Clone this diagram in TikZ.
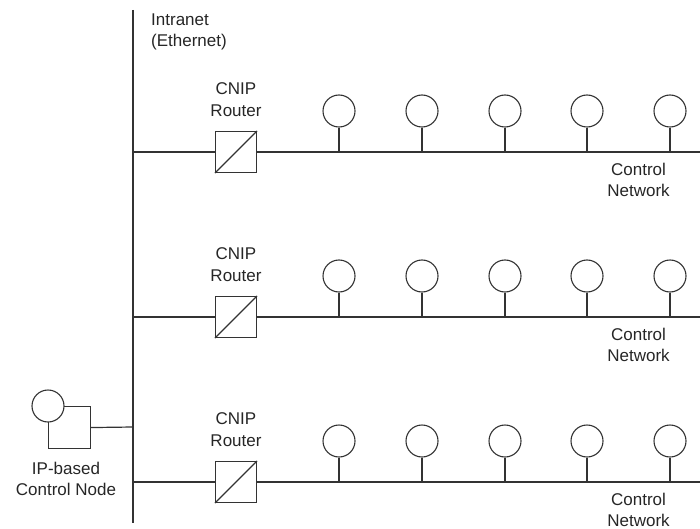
\documentclass[tikz,border=0pt]{standalone}
\usepackage{fontspec}
\setmainfont{Liberation Sans}
\begin{document}
\begin{tikzpicture}[x=1pt,y=-1pt,
  line/.style={line width=1.2pt, draw=black!80},
  lbl/.style={font=\fontsize{17}{21}\selectfont, inner sep=0pt, text=black!85, anchor=base},
  dev/.style={circle, draw=black!80, line width=1.1pt, minimum size=32pt, inner sep=0pt, fill=white},
  rbox/.style={draw=black!80, line width=1.1pt, minimum size=41pt, inner sep=0pt, fill=white}]
\useasboundingbox (0,0) rectangle (700,529);
% Intranet backbone
\coordinate (btop) at (133,10);
\coordinate (bbot) at (133,523);
\draw[line] (btop) -- (bbot);
\node[lbl, anchor=base west] (intraA) at (151,26) {Intranet};
\node[lbl, anchor=base west] (intraB) at (151,47) {(Ethernet)};
% rows
\foreach \r/\y in {1/152, 2/317, 3/482} {
  \coordinate (bl\r) at (133,\y);
  \coordinate (br\r) at (700,\y);
  \draw[line] (bl\r) -- (br\r);
  \node[rbox] (router\r) at (236,\y) {};
  \draw[line width=1.1pt, draw=black!80] (router\r.south west) -- (router\r.north east);
  \node[lbl] (rlA\r) at (236,\y-57.5) {CNIP};
  \node[lbl] (rlB\r) at (236,\y-35.5) {Router};
  \foreach \i/\x in {1/339, 2/422, 3/505, 4/587, 5/670} {
    \coordinate (tap\r\i) at (\x,\y);
    \node[dev] (dev\r\i) at (\x,\y-41) {};
    \draw[line] (dev\r\i.south) -- (tap\r\i);
  }
  \node[lbl] (cnA\r) at (638.5,\y+23.5) {Control};
  \node[lbl] (cnB\r) at (638.5,\y+44.5) {Network};
}
% IP-based control node
\node[draw=black!80, line width=1.1pt, minimum width=42pt, minimum height=42pt, inner sep=0pt, anchor=north west] (ipsq) at (48,406) {};
\node[dev] (ipc) at (ipsq.north west) {};
\coordinate (ipj) at (133,427);
\draw[line] (ipsq.east) -- (ipj);
\node[lbl] (iplblA) at (66,474) {IP-based};
\node[lbl] (iplblB) at (66,495) {Control Node};
\end{tikzpicture}
\end{document}
